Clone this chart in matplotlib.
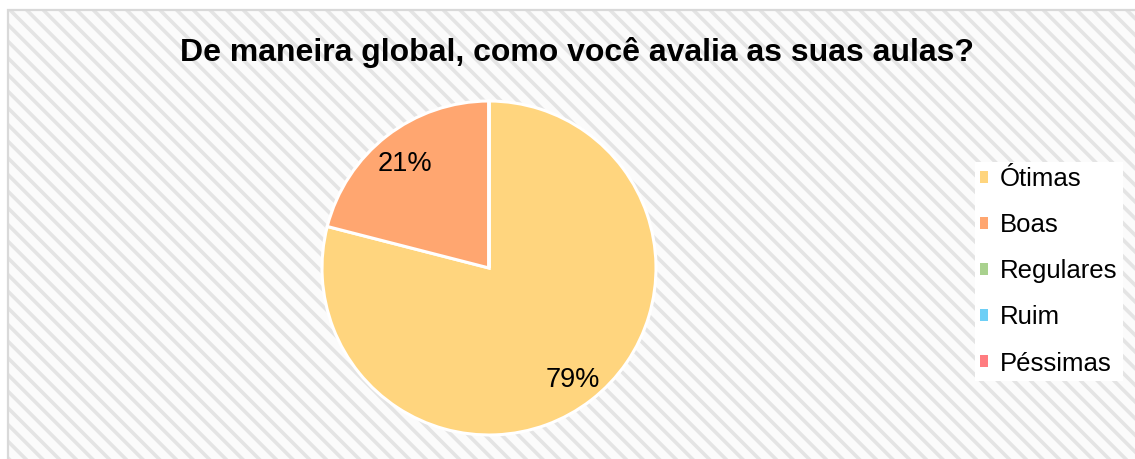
import matplotlib
matplotlib.use("Agg")
import matplotlib.pyplot as plt
from matplotlib.patches import Rectangle, Patch

plt.rcParams['font.family'] = ['Liberation Sans', 'DejaVu Sans']
plt.rcParams['hatch.linewidth'] = 2.6

# dados
categorias = ['Ótimas', 'Boas', 'Regulares', 'Ruim', 'Péssimas']
valores = [79, 21, 0, 0, 0]
cores = ['#FFD57E', '#FFA670', '#A9D18E', '#6DCFF6', '#FF7C80']
titulo = 'De maneira global, como você avalia as suas aulas?'

W, H = 1135, 459
fig = plt.figure(figsize=(W / 100, H / 100), dpi=100)
fig.patch.set_facecolor('white')

# fundo listrado + borda
fundo = Rectangle((8 / W, 0), 1, 1 - 10 / H, transform=fig.transFigure,
                  facecolor='#fbfbfb', edgecolor='#e4e4e4', hatch='\\\\',
                  lw=0, zorder=-2)
borda = Rectangle((8 / W, -0.05), 1.2, 1.05 - 10 / H, transform=fig.transFigure,
                  facecolor='none', edgecolor='#d9d9d9', lw=1.6, zorder=-1)
fig.patches.extend([fundo, borda])

# pizza
cx, cy, r = 489, 268, 167
ax = fig.add_axes([(cx - r) / W, (H - cy - r) / H, 2 * r / W, 2 * r / H])
ax.set_facecolor('none')


def rotulo(p):
    return f'{p:.0f}%' if p > 0 else ''


wedges, _, autotexts = ax.pie(valores, colors=cores, startangle=90, counterclock=False,
                              autopct=rotulo, pctdistance=0.82, radius=1,
                              wedgeprops=dict(edgecolor='white', linewidth=2.2))
for t in autotexts:
    t.set_fontsize(19.5)
    t.set_color('black')
    x, y = t.get_position()
    t.set_position((x, y - 0.025))
ax.set_xlim(-1, 1)
ax.set_ylim(-1, 1)
ax.axis('off')

fig.text(577 / W, 1 - 52 / H, titulo, ha='center', va='center',
         fontsize=23, fontweight='bold')

handles = [Patch(facecolor=c, edgecolor='none') for c in cores]
leg = fig.legend(handles, categorias, loc='upper left',
                 bbox_to_anchor=(975 / W, 1 - 162 / H), fontsize=18.5,
                 frameon=True, facecolor='white', edgecolor='none', framealpha=1,
                 fancybox=False, handlelength=0.32, handleheight=0.32,
                 handletextpad=0.45, labelspacing=0.86, borderpad=0.2,
                 borderaxespad=0)

fig.savefig('out.png', dpi=100)
